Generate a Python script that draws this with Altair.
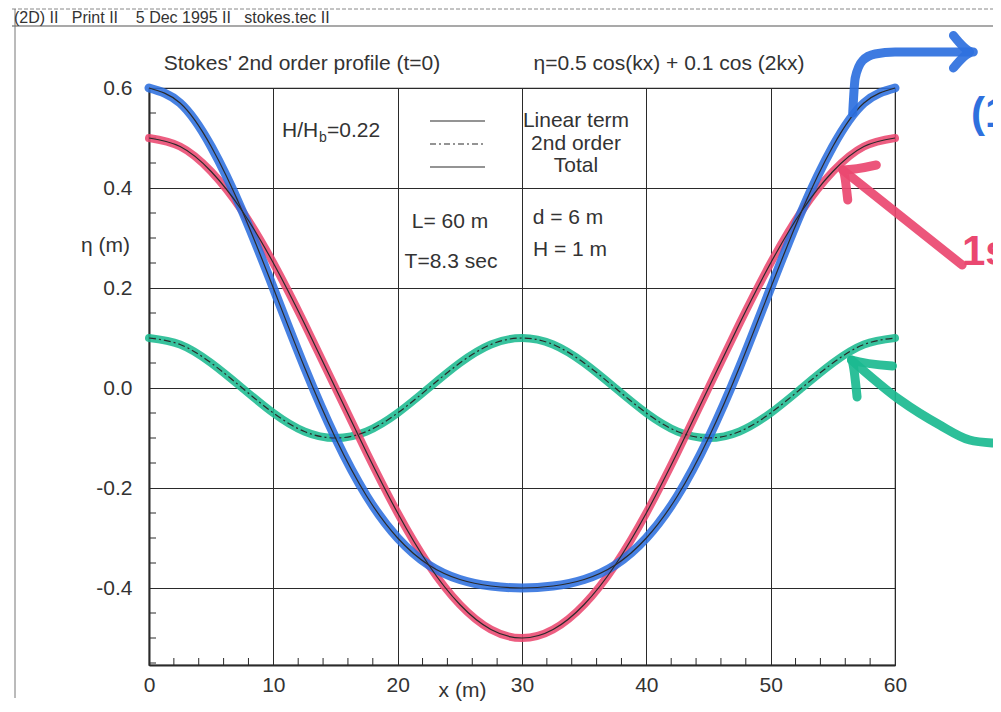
import altair as alt
import pandas as pd

# ---- data ----
x_m = [0, 2.5, 5, 7.5, 10, 12.5, 15, 17.5, 20, 22.5, 25, 27.5, 30,
       32.5, 35, 37.5, 40, 42.5, 45, 47.5, 50, 52.5, 55, 57.5, 60]
linear = [0.50, 0.483, 0.433, 0.354, 0.25, 0.129, 0.0, -0.129, -0.25, -0.354, -0.433, -0.483, -0.50,
          -0.483, -0.433, -0.354, -0.25, -0.129, 0.0, 0.129, 0.25, 0.354, 0.433, 0.483, 0.50]
second = [0.10, 0.087, 0.05, 0.0, -0.05, -0.087, -0.10, -0.087, -0.05, 0.0, 0.05, 0.087, 0.10,
          0.087, 0.05, 0.0, -0.05, -0.087, -0.10, -0.087, -0.05, 0.0, 0.05, 0.087, 0.10]
total = [0.60, 0.570, 0.483, 0.354, 0.20, 0.042, -0.10, -0.216, -0.30, -0.354, -0.383, -0.396, -0.40,
         -0.396, -0.383, -0.354, -0.30, -0.216, -0.10, 0.042, 0.20, 0.354, 0.483, 0.570, 0.60]

x_major = [0, 10, 20, 30, 40, 50, 60]
y_major = [-0.4, -0.2, 0.0, 0.2, 0.4, 0.6]
x_minor = [2, 4, 6, 8, 12, 14, 16, 18, 22, 24, 26, 28, 32, 34, 36, 38, 42, 44, 46, 48, 52, 54, 56, 58]
y_minor = [-0.55, -0.5, -0.45, -0.35, -0.3, -0.25, -0.15, -0.1, -0.05,
           0.05, 0.1, 0.15, 0.25, 0.3, 0.35, 0.45, 0.5, 0.55]

# hand-drawn marker arrows (data coordinates, beyond the plot on the right)
blue_arrow_x = [56.6, 56.8, 57.4, 58.4, 60.0, 63.0, 66.0]
blue_arrow_y = [0.55, 0.62, 0.655, 0.668, 0.672, 0.672, 0.672]
blue_head_x = [64.7, 66.3, 64.7]
blue_head_y = [0.705, 0.672, 0.64]
red_arrow_x = [55.8, 65.4]
red_arrow_y = [0.436, 0.246]
red_head_x = [58.5, 55.8, 56.2]
red_head_y = [0.446, 0.436, 0.376]
green_arrow_x = [56.5, 60.4, 63.6, 66.0, 67.8]
green_arrow_y = [0.056, -0.024, -0.074, -0.104, -0.110]
green_head_x = [59.8, 56.5, 56.95]
green_head_y = [0.044, 0.056, -0.018]

BLUE = "#2e70de"
PINK = "#ea4870"
GREEN = "#1bba90"
INK = "#2a2a2a"
FONT = "Liberation Sans"
FS = 21

rows = []
for name, vals in (("linear", linear), ("second", second), ("total", total)):
    for xv, yv in zip(x_m, vals):
        rows.append({"x": xv, "y": yv, "series": name})
df = pd.DataFrame(rows)

arows = []
for pid, (xs_, ys_, col) in enumerate([
        (blue_arrow_x, blue_arrow_y, BLUE), (blue_head_x, blue_head_y, BLUE),
        (red_arrow_x, red_arrow_y, PINK), (red_head_x, red_head_y, PINK),
        (green_arrow_x, green_arrow_y, GREEN), (green_head_x, green_head_y, GREEN)]):
    for i, (a, b) in enumerate(zip(xs_, ys_)):
        arows.append({"x": a, "y": b, "path": pid, "o": i, "c": col})
adf = pd.DataFrame(arows)

xs = alt.Scale(domain=[0, 60], nice=False, zero=False)
ys = alt.Scale(domain=[-0.554, 0.6], nice=False, zero=False)

xaxis = alt.Axis(values=x_major, grid=True, gridColor=INK, gridWidth=1, gridOpacity=1,
                 tickSize=0, domainColor=INK, domainWidth=2,
                 labelFont=FONT, labelFontSize=FS, labelColor="#333", labelPadding=9,
                 labelFlush=False,
                 title="x (m)", titleFont=FONT, titleFontSize=FS, titleFontWeight="normal",
                 titleColor="#333", titleX=313, titleY=25, titleAlign="center",
                 titleBaseline="middle")
yaxis = alt.Axis(values=y_major, grid=True, gridColor=INK, gridWidth=1, gridOpacity=1,
                 tickSize=0, domainColor=INK, domainWidth=2,
                 labelExpr="(datum.value < 0 ? '-' : '') + format(abs(datum.value), '.1f')",
                 labelFont=FONT, labelFontSize=FS, labelColor="#333", labelPadding=17,
                 labelFlush=False,
                 title="η (m)", titleFont=FONT, titleFontSize=FS, titleFontWeight="normal",
                 titleColor="#333", titleAngle=0, titleX=-44, titleY=157,
                 titleAlign="center", titleBaseline="middle")

X = alt.X("x:Q", scale=xs, axis=xaxis)
Y = alt.Y("y:Q", scale=ys, axis=yaxis)

base = alt.Chart(df)


def hl(series, color, width):
    return base.transform_filter(alt.datum.series == series).mark_line(
        color=color, strokeWidth=width, opacity=0.88, strokeCap="round",
        interpolate="natural").encode(x=X, y=Y)


def thin(series, dash=None):
    kw = dict(color=INK, strokeWidth=1.2, interpolate="natural")
    if dash:
        kw["strokeDash"] = dash
    return base.transform_filter(alt.datum.series == series).mark_line(**kw).encode(x=X, y=Y)


one = pd.DataFrame({"_": [0]})


def txt(s, x, y, size=FS, align="center", color="#333", weight="normal", font=FONT):
    return alt.Chart(one).mark_text(text=s, fontSize=size, align=align, baseline="middle",
                                    color=color, fontWeight=weight, font=font).encode(
        x=alt.value(x), y=alt.value(y))


def hrule(x1, x2, y, color="#555", w=1, dash=None):
    kw = dict(color=color, strokeWidth=w)
    if dash:
        kw["strokeDash"] = dash
    return alt.Chart(one).mark_rule(**kw).encode(x=alt.value(x1), x2=alt.value(x2), y=alt.value(y))


def vrule(x, y1, y2, color="#555", w=1):
    return alt.Chart(one).mark_rule(color=color, strokeWidth=w).encode(
        x=alt.value(x), y=alt.value(y1), y2=alt.value(y2))


xminor = alt.Chart(pd.DataFrame({"x": x_minor})).mark_rule(color=INK, strokeWidth=1).encode(
    x=X, y=alt.value(577), y2=alt.value(570))
yminor = alt.Chart(pd.DataFrame({"y": y_minor})).mark_rule(color=INK, strokeWidth=1).encode(
    y=Y, x=alt.value(0), x2=alt.value(7))

arrows = alt.Chart(adf).mark_line(strokeWidth=9, opacity=0.92, strokeCap="round",
                                  strokeJoin="round", clip=False, interpolate="monotone").encode(
    x=X, y=Y, detail="path:N", order="o:Q", color=alt.Color("c:N", scale=None))

NB = "\u00a0"
header = f"(2D) II{NB}{NB} Print II{NB}{NB}{NB} 5 Dec 1995 II{NB}{NB} stokes.tec II"

layers = [
    # frame decorations
    hrule(-137, 850, -79, color="#888", w=1, dash=[4, 2]),
    hrule(-137, 850, -62, color="#555", w=1.2),
    vrule(-134, -79, 610, color="#777", w=1),
    txt(header, -135, -70, size=16, align="left"),
    txt("Stokes' 2nd order profile (t=0)", 153, -24),
    txt("η=0.5 cos(kx) + 0.1 cos (2kx)", 520, -24),
    xminor, yminor,
    hl("second", GREEN, 8), hl("linear", PINK, 8), hl("total", BLUE, 9),
    thin("second", [7, 3, 2, 3]), thin("linear"), thin("total"),
    # legend
    txt("H/H", 133, 43, align="left"),
    txt("b", 170, 50, size=14, align="left"),
    txt("=0.22", 178, 43, align="left"),
    hrule(281, 336, 33, color=INK, w=1.2),
    hrule(281, 336, 56, color=INK, w=1.2, dash=[6, 3, 2, 3]),
    hrule(281, 336, 79, color=INK, w=1.2),
    txt("Linear term", 427, 33),
    txt("2nd order", 427, 56),
    txt("Total", 427, 78),
    txt("L= 60 m", 301, 134),
    txt("T=8.3 sec", 302, 174),
    txt("d = 6 m", 419, 130),
    txt("H = 1 m", 421, 162),
    arrows,
    txt("(1", 822, 26, size=42, align="left", color=BLUE, weight="bold"),
    txt("1s", 813, 164, size=42, align="left", color=PINK, weight="bold"),
]

chart = alt.layer(*layers).properties(
    width=746, height=577,
    autosize=alt.AutoSizeParams(type="none"),
    padding={"left": 141, "top": 80, "right": 98, "bottom": 36},
    background="white",
).configure_view(stroke=INK, strokeWidth=1.2)

chart.save("out.html", embed_options={"renderer": "svg", "actions": False})
